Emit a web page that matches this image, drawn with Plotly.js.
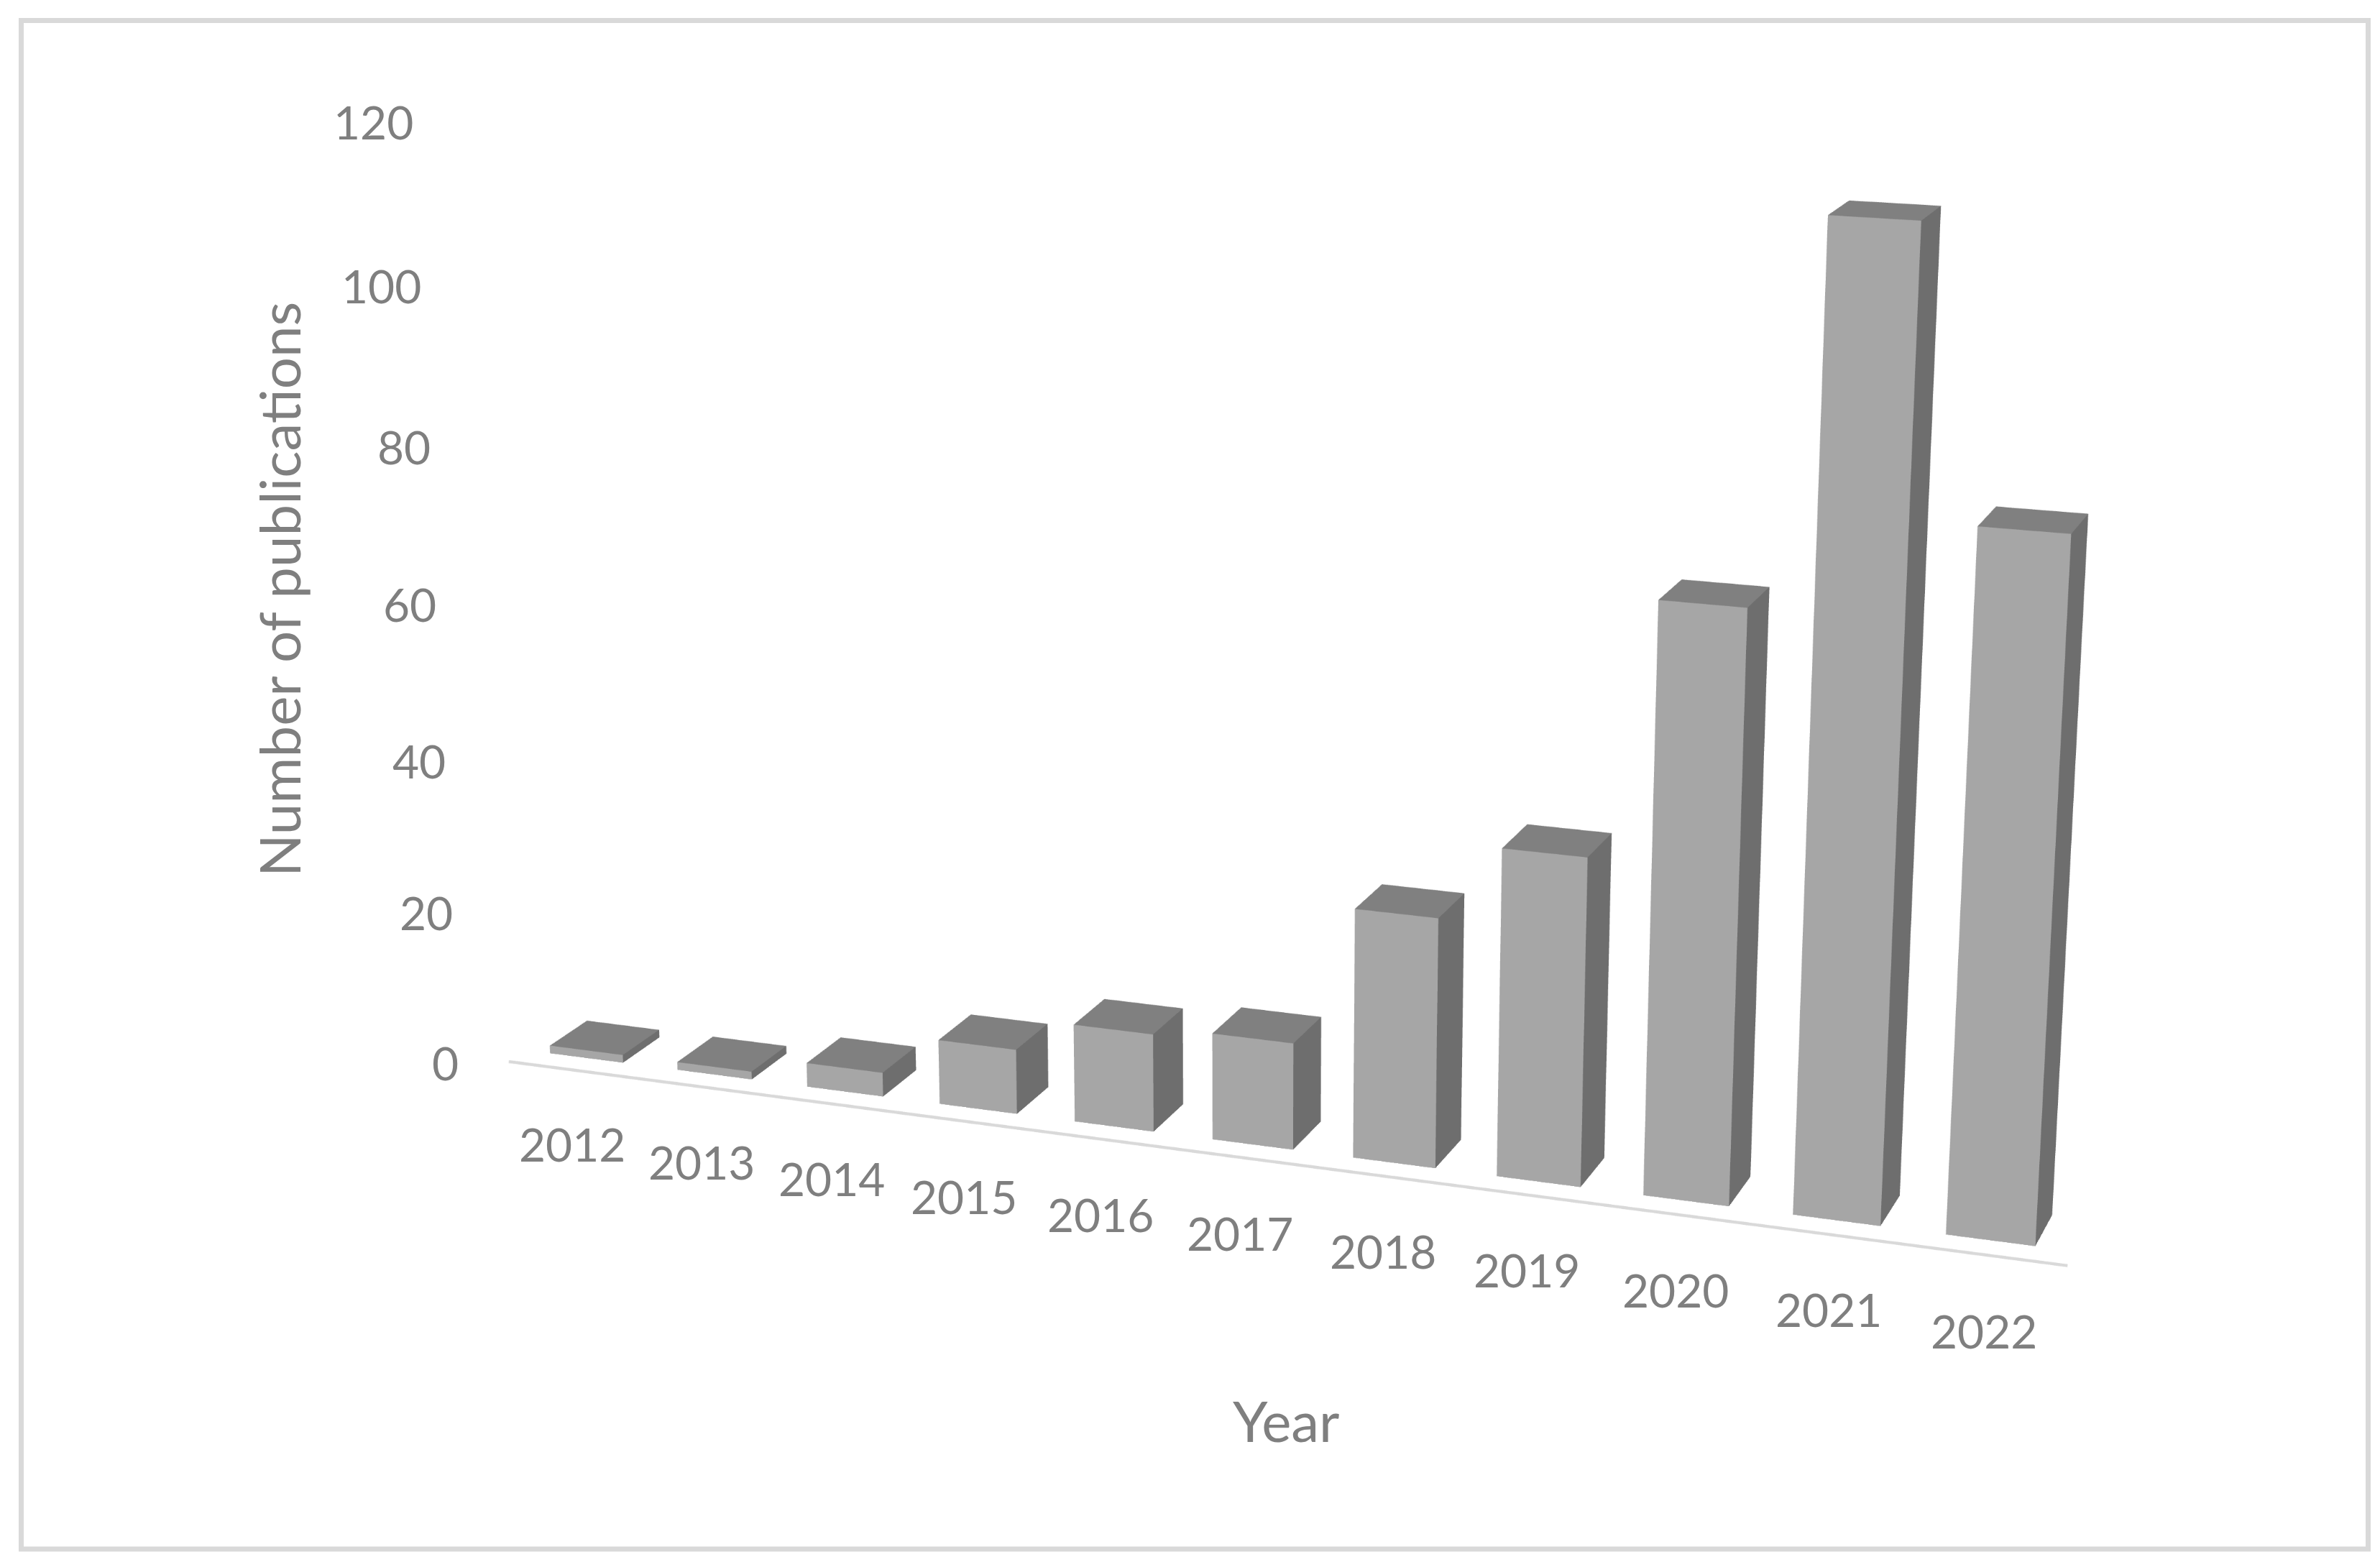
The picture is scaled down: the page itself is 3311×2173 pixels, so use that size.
<!DOCTYPE html>
<html><head><meta charset="utf-8">
<script src="https://cdn.plot.ly/plotly-3.0.1.min.js"></script>
<style>html,body{margin:0;padding:0;background:#fff;overflow:hidden;width:3311px;height:2173px}
#c{position:absolute;left:0;top:-1670px;width:3462px;height:5511px}</style></head>
<body><div id="c"></div>
<script>
// ---- data
const years=["2012","2013","2014","2015","2016","2017","2018","2019","2020","2021","2022"];
const publications=[1,1,3,8,12,13,30,39,69,112,80];
const yTicks=[0,20,40,60,80,100,120];
const xTitle="Year", yTitle="Number of publications";
// ---- label placement (reference pixels)
const yearLabelX=[796,976,1157,1341,1531,1725,1924,2124,2331,2544,2760];
const yearLabelY=[1592,1616,1639,1664,1689,1715,1740,1766,1794,1821,1851];
const tickLabelX=[619,593,583,570,562,530,519];
const tickLabelY=[1478,1269,1058,840,621,397,169];
// ---- styles
const frontColor="#a6a6a6", sideColor="#6e6e6e", topColor="#808080", textColor="#7f7f7f", ruleColor="#d9d9d9";
const fontFamily="Lato, Carlito, Calibri, sans-serif";
// ---- page / view geometry
const LW=3462, LH=5511, TOP=-1670;
const yaw=20*Math.PI/180, pitch=16.5*Math.PI/180;
const D=3, S=1050;            // eye distance (scene units), world px per scene unit
const unitX=98.1, unitY=99, unitZ=5.7;   // world px per year, per depth unit, per publication
const xR=[-2,12], yR=[-2,2], zR=[0,130];
const barW=0.575, barD=0.56;
const mid=a=>(a[0]+a[1])/2, span=a=>a[1]-a[0];
const r=[Math.cos(yaw),Math.sin(yaw),0];
const u=[-Math.sin(yaw)*Math.sin(pitch),Math.cos(yaw)*Math.sin(pitch),Math.cos(pitch)];
const look=[0,1,2].map(k=>-5.5*r[k]+240*u[k]);
const worldMid=[mid(xR)*unitX-5*unitX,mid(yR)*unitY,mid(zR)*unitZ];
const center={x:(look[0]-worldMid[0])/S,y:(look[1]-worldMid[1])/S,z:(look[2]-worldMid[2])/S};
const eye={x:center.x+D*Math.sin(yaw)*Math.cos(pitch),y:center.y-D*Math.cos(yaw)*Math.cos(pitch),z:center.z+D*Math.sin(pitch)};
const aspect={x:span(xR)*unitX/S,y:span(yR)*unitY/S,z:span(zR)*unitZ/S};

function box(i,h){
  const x0=i-barW/2,x1=i+barW/2,y0=0,y1=barD;
  const X=[x0,x1,x1,x0,x0,x1,x1,x0],Y=[y0,y0,y1,y1,y0,y0,y1,y1],Z=[0,0,0,0,h,h,h,h];
  return {type:'mesh3d',x:X,y:Y,z:Z,
    i:[0,0,1,1,4,4],j:[1,5,2,6,5,6],k:[5,4,6,5,6,7],
    facecolor:[frontColor,frontColor,sideColor,sideColor,topColor,topColor],
    flatshading:true,showscale:false,hoverinfo:'skip',
    lighting:{ambient:1,diffuse:0,specular:0,roughness:1,fresnel:0}};
}
const traces=publications.map((v,i)=>box(i,v));
traces.push({type:'scatter3d',mode:'lines',x:[-0.48,10.54],y:[-0.25,-0.25],z:[0,0],
  line:{color:ruleColor,width:8},hoverinfo:'skip',showlegend:false});

const hidden={visible:false,showgrid:false,zeroline:false,showticklabels:false,title:{text:''}};
const px=x=>x/LW, py=y=>1-(y-TOP)/LH;
const ann=(text,x,y,size,angle)=>({xref:'paper',yref:'paper',x:px(x),y:py(y),text:String(text),showarrow:false,
  xanchor:'center',yanchor:'middle',textangle:angle||0,font:{family:fontFamily,size:size,color:textColor}});
const annotations=[
  ...years.map((t,i)=>ann(t,yearLabelX[i],yearLabelY[i],64)),
  ...yTicks.map((t,i)=>ann(t,tickLabelX[i],tickLabelY[i],64)),
  ann(xTitle,1789,1976,78),
  ann(yTitle,388,820,78,-90)
];
Plotly.newPlot('c',traces,{
  width:LW,height:LH,paper_bgcolor:'rgba(0,0,0,0)',showlegend:false,margin:{l:0,r:0,t:0,b:0},
  annotations,
  shapes:[{type:'rect',xref:'paper',yref:'paper',x0:px(29.5),x1:px(3294.5),y0:py(28.5),y1:py(2155),line:{color:ruleColor,width:7},fillcolor:'rgba(0,0,0,0)'}],
  scene:{domain:{x:[0,1],y:[0,1]},aspectmode:'manual',aspectratio:aspect,
    xaxis:Object.assign({range:xR},hidden),yaxis:Object.assign({range:yR},hidden),zaxis:Object.assign({range:zR},hidden),
    camera:{eye,center,up:{x:0,y:0,z:1},projection:{type:'perspective'}}}
},{displayModeBar:false,plotGlPixelRatio:1.4});
</script></body></html>
